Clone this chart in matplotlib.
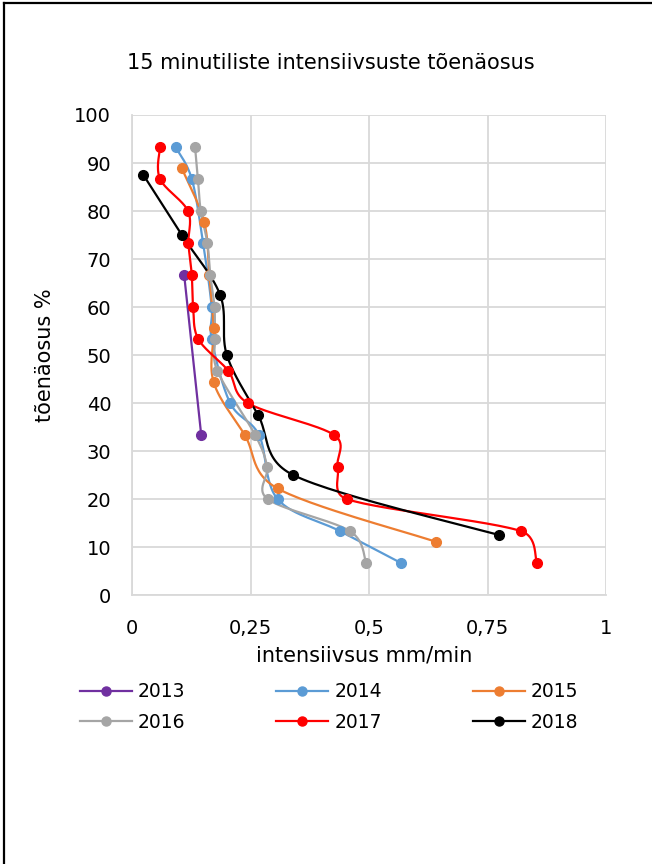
import numpy as np
import matplotlib.pyplot as plt
from matplotlib.lines import Line2D

# andmed (tõenäosus %, intensiivsus mm/min)
x2013 = [0.110, 0.146]
y2013 = [66.7, 33.3]

x2014 = [0.092, 0.126, 0.150, 0.168, 0.168, 0.207, 0.268, 0.307, 0.439, 0.567]
y2014 = [93.3, 86.7, 73.3, 60.0, 53.3, 40.0, 33.3, 20.0, 13.3, 6.7]

x2015 = [0.105, 0.152, 0.163, 0.172, 0.172, 0.238, 0.307, 0.641]
y2015 = [88.9, 77.8, 66.7, 55.6, 44.4, 33.3, 22.2, 11.1]

x2016 = [0.133, 0.139, 0.145, 0.159, 0.165, 0.174, 0.175, 0.180, 0.260, 0.285, 0.286, 0.460, 0.494]
y2016 = [93.3, 86.7, 80.0, 73.3, 66.7, 60.0, 53.3, 46.7, 33.3, 26.7, 20.0, 13.3, 6.7]

x2017 = [0.059, 0.059, 0.118, 0.119, 0.126, 0.129, 0.140, 0.203, 0.244, 0.427, 0.434, 0.453, 0.821, 0.854]
y2017 = [93.3, 86.7, 80.0, 73.3, 66.7, 60.0, 53.3, 46.7, 40.0, 33.3, 26.7, 20.0, 13.3, 6.7]

x2018 = [0.024, 0.105, 0.186, 0.200, 0.266, 0.340, 0.774]
y2018 = [87.5, 75.0, 62.5, 50.0, 37.5, 25.0, 12.5]

years  = ['2013', '2014', '2015', '2016', '2017', '2018']
xs     = [x2013, x2014, x2015, x2016, x2017, x2018]
ys     = [y2013, y2014, y2015, y2016, y2017, y2018]
colors = ['#7030A0', '#5B9BD5', '#ED7D31', '#A5A5A5', '#FF0000', '#000000']


def smooth(x, y, sx=474.0, sy=4.8, n=30):
    # Exceli "smoothed line" laadne bezier, arvutatud ekraani mõõtkavas
    p = np.column_stack([np.asarray(x) * sx, np.asarray(y) * sy])
    if len(p) < 3:
        return np.asarray(x), np.asarray(y)
    pts = np.vstack([p[0], p, p[-1]])
    t = np.linspace(0, 1, n)[:, None]
    out = []
    for i in range(1, len(pts) - 2):
        p0, p1, p2, p3 = pts[i - 1], pts[i], pts[i + 1], pts[i + 2]
        L = np.hypot(*(p2 - p1))
        d1 = (p2 - p0) / 6
        d2 = (p3 - p1) / 6
        # kontrollpunkt ei tohi minna liiga kaugele lühikese lõigu korral
        for d in (d1, d2):
            m = np.hypot(*d)
            if m > 0.5 * L and m > 0:
                d *= 0.5 * L / m
        c1 = p1 + d1
        c2 = p2 - d2
        seg = ((1 - t) ** 3) * p1 + 3 * ((1 - t) ** 2) * t * c1 + 3 * (1 - t) * t ** 2 * c2 + t ** 3 * p2
        out.append(seg if i == 1 else seg[1:])
    out = np.vstack(out)
    return out[:, 0] / sx, out[:, 1] / sy


fig = plt.figure(figsize=(6.52, 8.64), dpi=100)
ax = fig.add_axes([0.2025, 0.3113, 0.727, 0.5556])

for x, y, c, lab in zip(xs, ys, colors, years):
    sxv, syv = smooth(x, y)
    ax.plot(sxv, syv, color=c, lw=1.6, solid_capstyle='round', zorder=3)
    ax.plot(x, y, 'o', color=c, ms=7, zorder=4)

ax.set_xlim(0, 1)
ax.set_ylim(0, 100)
ax.set_xticks([0, 0.25, 0.5, 0.75, 1])
ax.set_xticklabels(['0', '0,25', '0,5', '0,75', '1'])
ax.set_yticks(range(0, 101, 10))
ax.tick_params(length=0, labelsize=14, colors='#000000')
ax.tick_params(axis='x', pad=17)
ax.tick_params(axis='y', pad=15)
ax.grid(True, color='#d9d9d9', lw=1.3)
ax.set_axisbelow(True)
for s in ['top', 'right']:
    ax.spines[s].set_visible(False)
for s in ['left', 'bottom']:
    ax.spines[s].set_color('#d9d9d9')
    ax.spines[s].set_linewidth(1.3)

ax.set_xlabel('intensiivsus mm/min', fontsize=15, va='center')
ax.xaxis.set_label_coords(0.49, -0.125)
ax.set_ylabel('tõenäosus %', fontsize=15, va='center')
ax.yaxis.set_label_coords(-0.183, 0.5)
fig.text(0.508, 0.927, '15 minutiliste intensiivsuste tõenäosus', fontsize=15,
         ha='center', va='center')

# legendi järjekord ridade kaupa: 2013 2014 2015 / 2016 2017 2018
order = [0, 3, 1, 4, 2, 5]
handles = [Line2D([], [], color=colors[i], lw=1.6, marker='o', ms=6.5) for i in order]
labels = [years[i] for i in order]
fig.legend(handles, labels, loc='center', bbox_to_anchor=(0.505, 0.1817), ncol=3,
           frameon=False, fontsize=13.5, handlelength=2.77, columnspacing=4.85,
           handletextpad=0.32, labelspacing=0.62)

# kaadri ääris (vasak ja ülemine)
fig.add_artist(Line2D([0.006, 0.006], [0, 0.996], transform=fig.transFigure, color='black', lw=1.6))
fig.add_artist(Line2D([0.006, 1], [0.996, 0.996], transform=fig.transFigure, color='black', lw=1.6))

fig.savefig('out.png', dpi=100)
